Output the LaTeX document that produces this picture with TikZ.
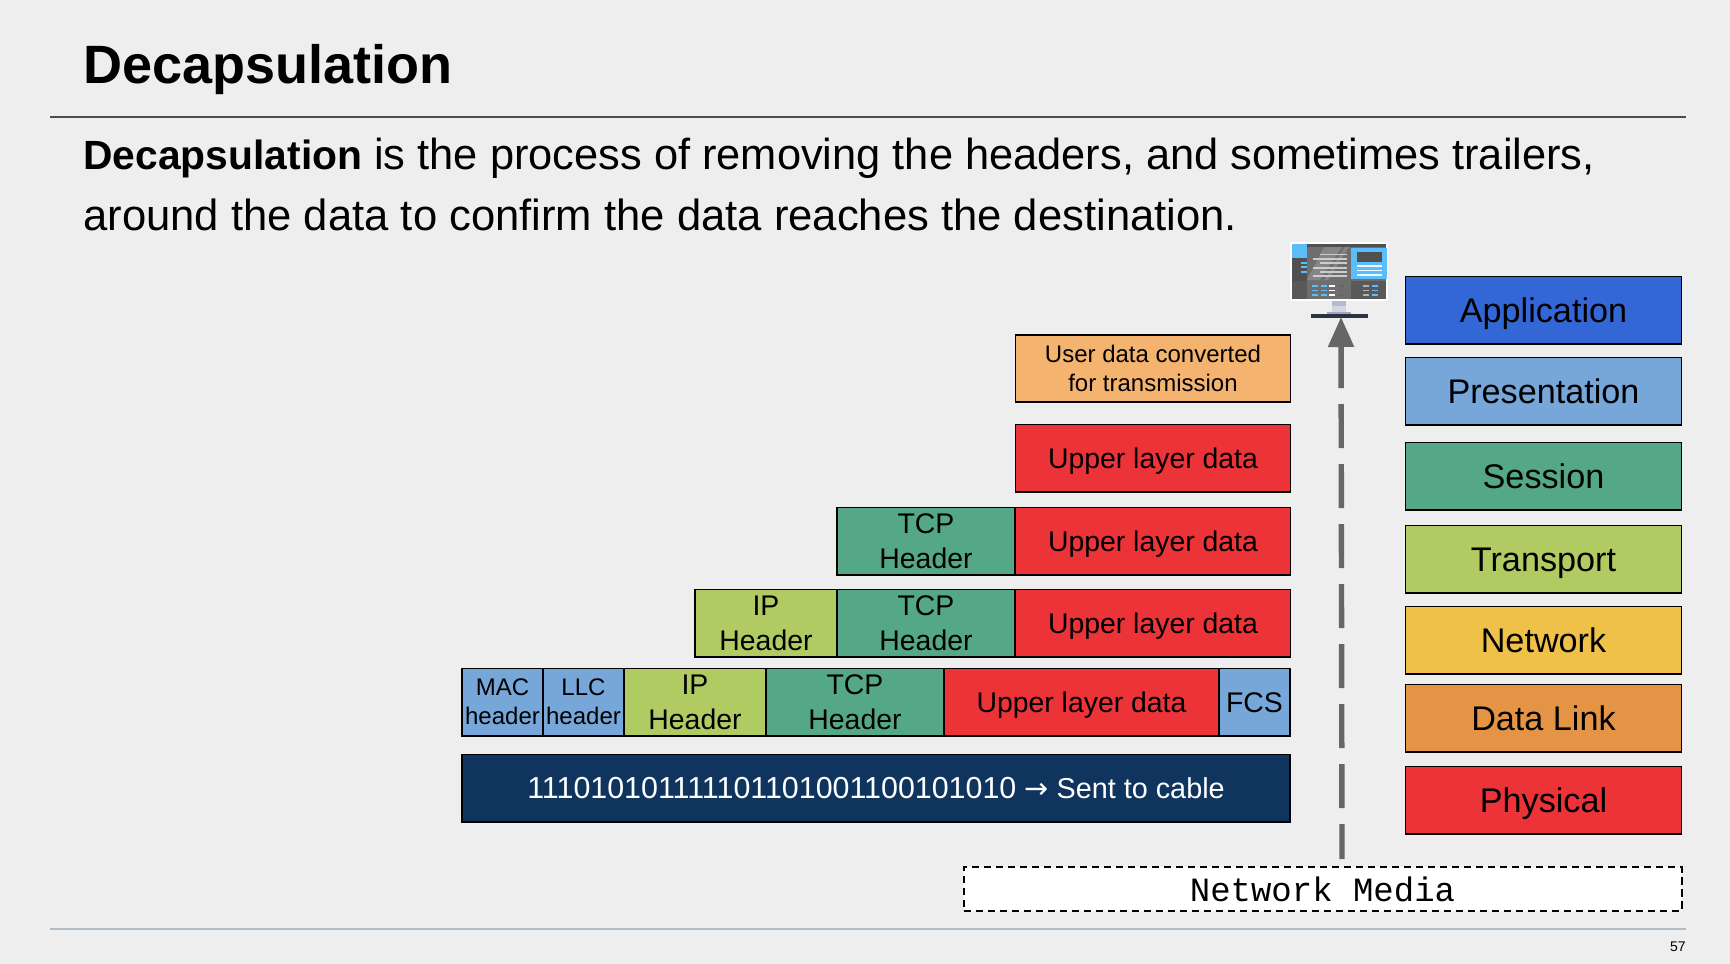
\documentclass[tikz,border=0pt]{standalone}
\usepackage{fontspec}
\usetikzlibrary{arrows.meta}
\setmainfont{Liberation Sans}
\setmonofont{Liberation Mono}
\newfontfamily\arrowfont{DejaVu Sans}
\definecolor{pagebg}{HTML}{EEEEEE}
\definecolor{appblue}{HTML}{3367D6}
\definecolor{presblue}{HTML}{76A7D8}
\definecolor{sessgreen}{HTML}{54A888}
\definecolor{transgreen}{HTML}{B0CB62}
\definecolor{netyellow}{HTML}{F0C148}
\definecolor{linkorange}{HTML}{E59446}
\definecolor{physred}{HTML}{EB3338}
\definecolor{userorange}{HTML}{F5B370}
\definecolor{cablenavy}{HTML}{0F355F}
\definecolor{arrowgrey}{HTML}{666666}
\definecolor{screendark}{HTML}{505050}
\definecolor{screenmid}{HTML}{6E6E6E}
\definecolor{screenlight}{HTML}{858585}
\definecolor{screenblue}{HTML}{5BBEFA}
\definecolor{standblue}{HTML}{B0BCD0}
\definecolor{standbar}{HTML}{2A3340}
\definecolor{footgrey}{HTML}{B0BCC6}
\tikzset{
  pdu/.style={draw=black,line width=0.9pt,inner sep=0pt,outer sep=0pt,align=center,
    text=black,font=\fontsize{14.2}{17.4}\selectfont},
  oneline/.style={text height=10.2pt,text depth=0pt},
  layer/.style={pdu,minimum width=138pt,minimum height=33.6pt,text height=12.2pt,text depth=0pt,
    font=\fontsize{17.1}{20}\selectfont},
  small/.style={pdu,font=\fontsize{12}{14.6}\selectfont},
  rule/.style={line width=0.6pt},
  wide/.style={minimum width=137.5pt,minimum height=33.6pt},
  tcpbox/.style={pdu,fill=sessgreen,minimum width=89pt,minimum height=33.6pt},
  ipbox/.style={pdu,fill=transgreen,minimum width=71pt,minimum height=33.6pt},
}
\begin{document}
\begin{tikzpicture}[x=0.5pt,y=-0.5pt]
  \path[fill=pagebg,use as bounding box] (0,0) rectangle (1730,964);
  % heading
  \node (title) at (83,70) [anchor=west,inner sep=0pt,font=\fontsize{27}{33}\selectfont\bfseries] {Decapsulation};
  \coordinate (ruleL) at (50,117);
  \coordinate (ruleR) at (1686,117);
  \draw[rule,draw=black!70] (ruleL) to (ruleR);
  \node (line1) at (83,158) [anchor=west,inner sep=0pt,font=\fontsize{21.7}{26}\selectfont] {{\fontsize{20.4}{26}\selectfont\bfseries Decapsulation} is the process of removing the headers, and sometimes trailers,};
  \node (line2) at (83,215) [anchor=west,inner sep=0pt,font=\fontsize{21.8}{26}\selectfont] {around the data to confirm the data reaches the destination.};
  % layers
  \node (app) at (1543.5,310) [layer,fill=appblue] {Application};
  \node (pres) at (1543.5,391) [layer,fill=presblue] {Presentation};
  \node (sess) at (1543.5,476) [layer,fill=sessgreen] {Session};
  \node (trans) at (1543.5,559) [layer,fill=transgreen] {Transport};
  \node (net) at (1543.5,640) [layer,fill=netyellow] {Network};
  \node (link) at (1543.5,718) [layer,fill=linkorange] {Data Link};
  \node (phys) at (1543.5,800) [layer,fill=physred] {Physical};
  % data units
  \node (user) at (1153,368.5) [small,wide,fill=userorange] {User data converted\\for transmission};
  \node (up1) at (1153,458) [pdu,oneline,wide,fill=physred] {Upper layer data};
  \node (up2) at (1153,541) [pdu,oneline,wide,fill=physred] {Upper layer data};
  \node (tcp2) at (926,541) [tcpbox] {TCP\\Header};
  \node (up3) at (1153,623) [pdu,oneline,wide,fill=physred] {Upper layer data};
  \node (tcp3) at (926,623) [tcpbox] {TCP\\Header};
  \node (ip3) at (766,623) [ipbox] {IP\\Header};
  \node (mac) at (502.5,702) [small,fill=presblue,minimum width=40.5pt,minimum height=33.6pt] {MAC\\header};
  \node (llc) at (583.5,702) [small,fill=presblue,minimum width=40.5pt,minimum height=33.6pt] {LLC\\header};
  \node (ip4) at (695,702) [ipbox] {IP\\Header};
  \node (tcp4) at (855,702) [tcpbox] {TCP\\Header};
  \node (up4) at (1081.5,702) [pdu,oneline,wide,fill=physred] {Upper layer data};
  \node (fcs) at (1254.5,702) [pdu,oneline,fill=presblue,minimum width=35.5pt,minimum height=33.6pt] {FCS};
  \node (bits) at (876,788) [pdu,oneline,fill=cablenavy,text=white,font=\fontsize{14.4}{17.4}\selectfont,
    minimum width=414pt,minimum height=33.6pt]
    {{\fontsize{15.2}{18}\selectfont 111010101111101101001100101010} {\arrowfont →} Sent to cable};
  % cable and arrow
  \coordinate (upstart) at (1342,859);
  \coordinate (uptip) at (1341,317);
  \draw[arrowgrey,line width=2.7pt,dash pattern=on 22pt off 8pt,dash phase=4.5pt,-{Triangle[length=15pt,width=12.5pt,sep=0pt]}] (upstart) to (uptip);
  \node (media) at (1322.5,889) [draw=black,dash pattern=on 3.6pt off 2.4pt,line width=1pt,fill=white,inner sep=0pt,outer sep=0pt,
    minimum width=359pt,minimum height=21.6pt,font=\ttfamily\fontsize{17}{20}\selectfont] {Network Media};
  % monitor
  \fill[white] (1290,242) rectangle (1388,301);
  \fill[screenmid] (1292,244) rectangle (1386,299);
  \fill[screendark] (1292,244) rectangle (1307,299);
  \fill[screendark] (1307,244) rectangle (1386,247);
  \fill[screenlight] (1324,247) -- (1342,247) -- (1320,280) -- (1307,280) -- cycle;
  \fill[screenlight] (1345,247) -- (1349,247) -- (1328,280) -- (1324,280) -- cycle;
  \fill[screenblue] (1292,244) rectangle (1307,258);
  \foreach \ly in {262.7,267,271.7} \fill[screenblue] (1301,\ly-0.8) rectangle (1307,\ly+0.8);
  \foreach \ly in {254.3,262.7,271.7} \fill[white!80!black] (1320,\ly-0.8) rectangle (1347,\ly+0.8);
  \foreach \ly in {258.7,267.7,276} \fill[white!80!black] (1313,\ly-0.8) rectangle (1347,\ly+0.8);
  \fill[screenblue] (1351,248) rectangle (1387,279);
  \fill[screendark] (1357,252) rectangle (1382,262);
  \foreach \ly in {266,270.3,275} \fill[white!90!screenblue] (1357,\ly-0.8) rectangle (1382,\ly+0.8);
  \fill[black!65] (1292,281) rectangle (1386,299);
  \fill[screenmid] (1307,281) rectangle (1351,299);
  \foreach \ly in {286,290.3,295} {
    \fill[screenblue] (1312,\ly-0.8) rectangle (1318,\ly+0.8);
    \fill[screenblue] (1321,\ly-0.8) rectangle (1327,\ly+0.8);
    \fill[white] (1329,\ly-0.8) rectangle (1335,\ly+0.8);
    \fill[black!60] (1338,\ly-0.8) rectangle (1344,\ly+0.8);
    \fill[black!30] (1363,\ly-0.8) rectangle (1369,\ly+0.8);
    \fill[screenblue] (1372,\ly-0.8) rectangle (1378,\ly+0.8);
  }
  \fill[standblue] (1332,301) rectangle (1346,306);
  \fill[standblue!60!white] (1332,306) rectangle (1346,312);
  \fill[standblue!90!black] (1327,312) rectangle (1351,314);
  \fill[standbar] (1311,314.2) rectangle (1368,317.5);
  % footer
  \coordinate (footL) at (50,928.5);
  \coordinate (footR) at (1686,928.5);
  \draw[line width=1pt,draw=footgrey] (footL) to (footR);
  \node (pageno) at (1686,947) [anchor=east,inner sep=0pt,font=\fontsize{7}{8}\selectfont] {57};
\end{tikzpicture}
\end{document}
